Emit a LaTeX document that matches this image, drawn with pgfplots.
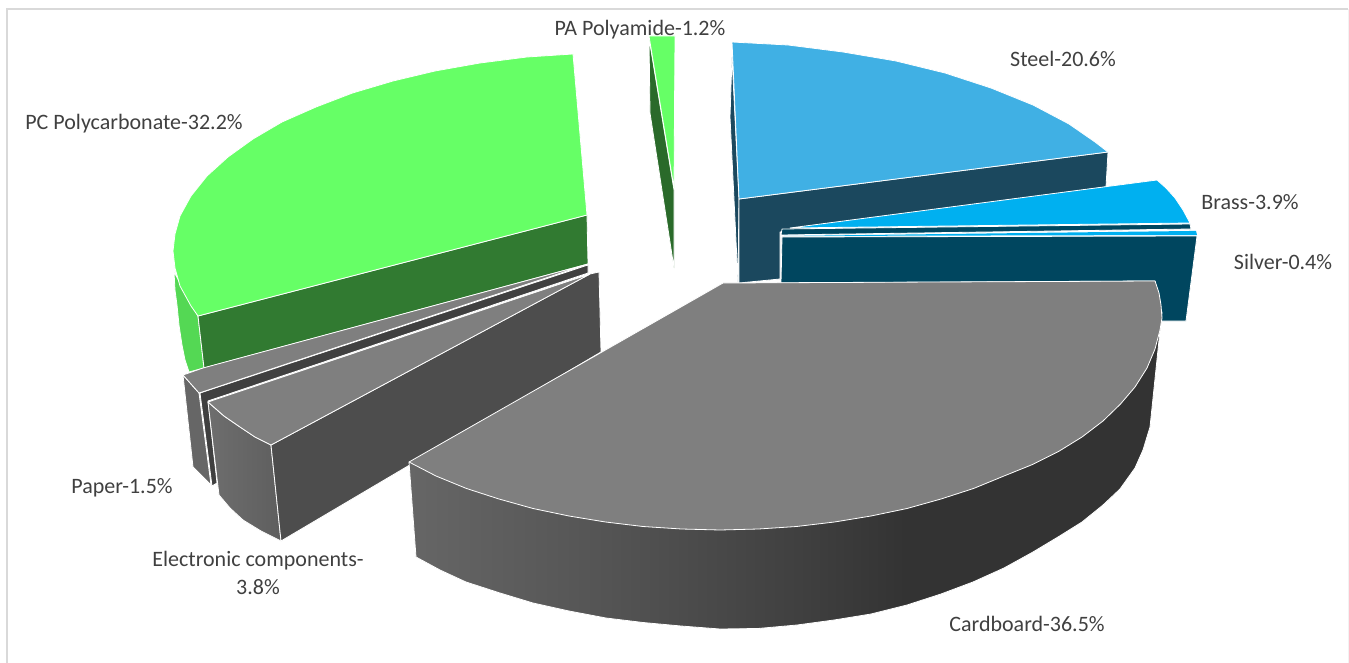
\documentclass[border=0pt]{standalone}
\usepackage{fontspec}
\setmainfont{Carlito}
\usepackage{pgfplots}
\pgfplotsset{compat=1.18}
\definecolor{pcTop}{HTML}{66FF66}
\definecolor{pcWall}{HTML}{317A31}
\definecolor{pcSide}{HTML}{54D854}
\definecolor{paWall}{HTML}{2A6A2A}
\definecolor{steelTop}{HTML}{40B0E4}
\definecolor{steelWall}{HTML}{1B485E}
\definecolor{brassTop}{HTML}{00B0F0}
\definecolor{brassWall}{HTML}{00465F}
\definecolor{greyTop}{HTML}{7F7F7F}
\definecolor{greyWall}{HTML}{4D4D4D}
\definecolor{labelGrey}{HTML}{404040}
\pgfdeclarehorizontalshading{cardside}{100bp}{rgb(0bp)=(.40,.40,.40); rgb(25bp)=(.40,.40,.40); rgb(38bp)=(.33,.33,.33); rgb(51bp)=(.25,.25,.25); rgb(58bp)=(.20,.20,.20); rgb(100bp)=(.20,.20,.20)}
\tikzset{
  slice/.style={draw=white,line width=.8pt,line join=round},
  lab/.style={font=\fontsize{22}{26}\selectfont,text=labelGrey,inner sep=0pt},
}
\begin{document}
\begin{tikzpicture}
\begin{axis}[
  scale only axis,
  width=1349pt,
  height=663pt,
  xmin=0,xmax=1349,
  ymin=0,ymax=663,
  y dir=reverse,
  axis lines=none,
  clip=true,
]
% frame
\addplot[draw=black!15,line width=2pt] coordinates {(7,663) (7,9) (1348,9)};
\addplot[draw=black!5,line width=1pt] coordinates {(1348,9) (1348,663)};
% PC Polycarbonate
\addplot[fill=pcSide,slice] coordinates {(174,272) (198,316) (204,368) (189,372) (185,360) (182,345) (179,325) (177,305) (175,290)} --cycle;
\addplot[fill=pcWall,slice] coordinates {(198,316) (587,215) (588,264) (204,368)} --cycle;
\addplot[fill=pcTop,slice] coordinates {(573,54) (527,57) (480,63) (435,71) (393,81) (352.5,93) (316,107) (282,122) (253,139) (228,157) (207,176) (191,196) (180,216) (175,234) (173,251) (175,268) (180,286) (191,306) (198,316) (587,215)} --cycle;
% PA Polyamide
\addplot[fill=paWall,slice] coordinates {(649,38) (650,113) (674,268) (674,190)} --cycle;
\addplot[fill=pcTop,slice] coordinates {(649,36) (675,36) (674,188)} --cycle;
% Steel
\addplot[fill=steelWall,slice] coordinates {(732,57) (730,117) (738,282) (739,199)} --cycle;
\addplot[fill=steelWall,slice] coordinates {(739,199) (1108,152) (1106,187) (780,232) (780,279) (739,283)} --cycle;
\addplot[fill=steelTop,slice] coordinates {(732,42) (788,45) (843,52) (896,61) (945,73) (991,88) (1033,105) (1069,124) (1095,142) (1108,152) (739,199)} --cycle;
% Brass
\addplot[fill=brassWall,slice] coordinates {(782,229) (1190,224) (1191,229) (781,235)} --cycle;
\addplot[fill=brassTop,slice] coordinates {(790,228) (1157,180) (1166,188) (1175,198) (1183,210) (1190,223)} --cycle;
% Silver
\addplot[fill=brassWall,slice] coordinates {(782,237) (1197,236) (1186,321) (1160,321) (1155,281) (781,283)} --cycle;
\addplot[fill=brassTop,draw=none] coordinates {(784,236) (1189,231) (1196,231) (1197,235)} --cycle;
% Paper
\addplot[fill=black!60,slice] coordinates {(183,375) (199,393) (211,485) (193,467)} --cycle;
\addplot[fill=black!75,slice] coordinates {(200,393) (588,265) (588,273) (208,401) (217,483) (212,486)} --cycle;
\addplot[fill=greyTop,slice] coordinates {(183,375) (203,368) (588,264) (199,393)} --cycle;
% Electronic components
\addplot[slice,left color=black!57,right color=black!63] coordinates {(208,402) (224,416) (240,427) (255,437) (271,445) (281,541) (261,531) (243,520) (230,508) (219,495)} --cycle;
\addplot[fill=greyWall,slice] coordinates {(271,445) (590,274) (599,272) (601,352) (281,541)} --cycle;
\addplot[fill=greyTop,slice] coordinates {(208,402) (590,274) (271,445) (255,437) (240,427) (224,416)} --cycle;
% Cardboard
\addplot[slice,shading=cardside] coordinates {(409,462) (416,557) (440,570) (466,582) (500,593) (533,603) (569,611) (606,618) (643,622.5) (681,626) (720,629) (758,628.5) (797,625) (834,620) (871,614) (907,605) (941,594) (973,582) (1004,568) (1033,552) (1058,537) (1082,522) (1103,505) (1120,489) (1135,468) (1143,450) (1150,427) (1159,340) (1162,312) (723,400)} --cycle;
\addplot[fill=greyTop,slice] coordinates {(723,283) (1155,281) (1159,293) (1161,305) (1162,318) (1160,330) (1155,349) (1147,368) (1135,387) (1120.5,404) (1103,421) (1082,437) (1058.5,451.5) (1032.5,464.5) (1004,476) (973.5,488.5) (941,499) (907,508.5) (871,516) (834.5,522) (796.5,526.5) (758.5,529) (720,530) (681.5,529) (643,526.5) (605.5,522) (569,516) (533,508.5) (499,499) (466.5,488.5) (436,476) (409,462)} --cycle;
% labels
\node[lab] at (axis cs:640,30) {PA Polyamide-1.2\%};
\node[lab] at (axis cs:1063,59) {Steel-20.6\%};
\node[lab] at (axis cs:1250,202) {Brass-3.9\%};
\node[lab] at (axis cs:1283,262) {Silver-0.4\%};
\node[lab] at (axis cs:1027,624) {Cardboard-36.5\%};
\node[lab] at (axis cs:134,124) {PC Polycarbonate-32.2\%};
\node[lab] at (axis cs:122,488) {Paper-1.5\%};
\node[lab] at (axis cs:258,561) {Electronic components-};
\node[lab] at (axis cs:258,587) {3.8\%};
\path (axis cs:0,0) (axis cs:1349,663);
\end{axis}
\end{tikzpicture}
\end{document}
